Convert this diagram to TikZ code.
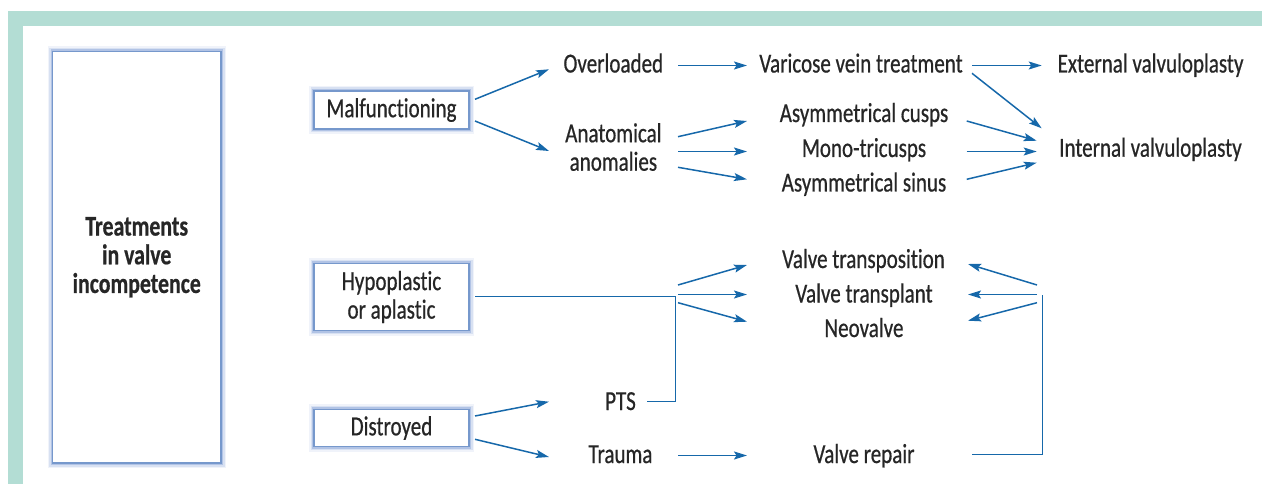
\documentclass[tikz,border=0pt]{standalone}
\usepackage{fontspec}
\setmainfont{Carlito}[FakeStretch=0.765, FakeBold=0.6, Ligatures=NoCommon]
\usetikzlibrary{arrows.meta}
\definecolor{framecol}{RGB}{179,221,212}
\definecolor{arrowblue}{RGB}{22,104,170}
\definecolor{boxline}{RGB}{118,152,204}
\definecolor{glowcol}{RGB}{105,140,205}
\definecolor{txt}{RGB}{38,38,38}
\tikzset{
  lbl/.style={inner sep=0pt, text=txt, anchor=base, align=center},
  boxnode/.style={draw=boxline, line width=1.3pt, fill=white, inner sep=0pt, text=txt, align=center,
    preaction={draw=glowcol, line width=10pt, opacity=0.10},
    preaction={draw=glowcol, line width=7pt, opacity=0.18},
    preaction={draw=glowcol, line width=4pt, opacity=0.35}},
  arr/.style={draw=arrowblue, line width=1.5pt, -{Stealth[length=13pt,width=8pt,inset=2.5pt]}},
  ln/.style={draw=arrowblue, line width=1.5pt},
}
\begin{document}
\begin{tikzpicture}[x=1pt, y=-1pt, font=\fontsize{27.5}{28.5}\selectfont]
\useasboundingbox (0,0) rectangle (1262,484);
% frame
\fill[framecol] (8,11) rectangle (1262,25.7);
\fill[framecol] (8,11) rectangle (22.7,484);

% boxes
\node[boxnode, minimum width=168.5pt, minimum height=411.5pt, font=\fontsize{28.5}{28.7}\selectfont\bfseries] (tbox) at (136.75,257.25) {Treatments\\in valve\\incompetence};
\node[boxnode, minimum width=155pt, minimum height=38pt] (malf) at (391.5,110) {Malfunctioning};
\node[boxnode, minimum width=155pt, minimum height=67.4pt] (hypo) at (391.5,297) {Hypoplastic\\or aplastic};
\node[boxnode, minimum width=155pt, minimum height=37.4pt] (dist) at (391.5,428) {Distroyed};

% labels
\node[lbl] (ovl) at (613.3,72.5) {Overloaded};
\node[lbl] (anat) at (613.4,170.7) {Anatomical\\anomalies};
\node[lbl] (var) at (861,72.5) {Varicose vein treatment};
\node[lbl] (ext) at (1150.6,72.5) {External valvuloplasty};
\node[lbl] (int) at (1150.5,156.7) {Internal valvuloplasty};
\node[lbl] (cusp) at (864,122) {Asymmetrical cusps};
\node[lbl] (mono) at (864,157) {Mono-tricusps};
\node[lbl] (sinus) at (864,191.5) {Asymmetrical sinus};
\node[lbl] (vtp) at (863.5,268) {Valve transposition};
\node[lbl] (vtl) at (864,302.5) {Valve transplant};
\node[lbl] (neo) at (864,337) {Neovalve};
\node[lbl] (pts) at (620.5,410) {PTS};
\node[lbl] (trauma) at (620.5,463) {Trauma};
\node[lbl] (repair) at (864,463) {Valve repair};

% upper arrows
\draw[arr] ([shift={(83.5,-10.7)}]malf.center) -- ([shift={(-64.3,-3.2)}]ovl.base);
\draw[arr] ([shift={(83.5,11)}]malf.center) -- ([shift={(-64.4,-19.7)}]anat.base);
\draw[arr] ([shift={(64.7,-7)}]ovl.base) -- ([shift={(-114,-7)}]var.base);
\draw[arr] ([shift={(111.3,-7)}]var.base) -- ([shift={(-108.9,-7)}]ext.base);
\draw[arr] ([shift={(111,0.8)}]var.base) -- ([shift={(-108.8,-28.4)}]int.base);
\draw[arr] ([shift={(64.6,-34)}]anat.base) -- ([shift={(-117,-1)}]cusp.base);
\draw[arr] ([shift={(64.6,-19.2)}]anat.base) -- ([shift={(-117,-5.5)}]mono.base);
\draw[arr] ([shift={(64.6,-3.4)}]anat.base) -- ([shift={(-117,-12.2)}]sinus.base);
\draw[arr] ([shift={(102.7,-1)}]cusp.base) -- ([shift={(-113.8,-16)}]int.base);
\draw[arr] ([shift={(102.7,-5.5)}]mono.base) -- ([shift={(-113.8,-5.2)}]int.base);
\draw[arr] ([shift={(102.7,-12.2)}]sinus.base) -- ([shift={(-113.8,6)}]int.base);

% lower left junction
\coordinate (j1) at (675.5,296.5);
\draw[ln] ([shift={(83.5,-0.5)}]hypo.center) -- (j1) |- ([shift={(26.5,-8.5)}]pts.base);
\draw[arr] ([shift={(2.5,-11.5)}]j1) -- ([shift={(-116.5,-3)}]vtp.base);
\draw[arr] ([shift={(2.5,-2)}]j1) -- ([shift={(-117,-8)}]vtl.base);
\draw[arr] ([shift={(2.5,6.2)}]j1) -- ([shift={(-117,-15.3)}]neo.base);

\draw[arr] ([shift={(83.5,-12)}]dist.center) -- ([shift={(-71.5,-8.3)}]pts.base);
\draw[arr] ([shift={(83.5,11.3)}]dist.center) -- ([shift={(-71.5,-6)}]trauma.base);
\draw[arr] ([shift={(57.5,-7.5)}]trauma.base) -- ([shift={(-117,-7.5)}]repair.base);

% right junction
\coordinate (j3) at (1042.5,295);
\draw[ln] ([shift={(108,-8.5)}]repair.base) -| (j3);
\draw[arr] ([shift={(-5.5,-10)}]j3) -- ([shift={(104.5,-4)}]vtp.base);
\draw[arr] ([shift={(-5.5,-0.5)}]j3) -- ([shift={(104,-8)}]vtl.base);
\draw[arr] ([shift={(-5.5,7.7)}]j3) -- ([shift={(104,-16.3)}]neo.base);
\end{tikzpicture}
\end{document}
